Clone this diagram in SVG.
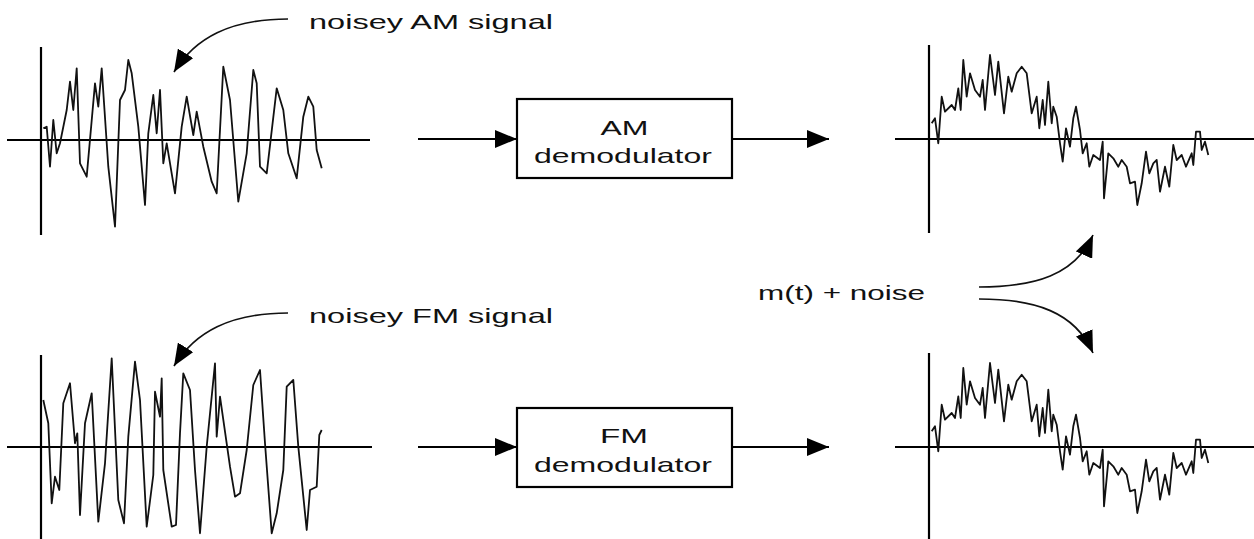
<svg xmlns="http://www.w3.org/2000/svg" width="1254" height="539" viewBox="0 0 1254 539">
<style>
.axis{stroke:#000;stroke-width:2.2;fill:none}
.sig{stroke:#111;stroke-width:1.8;fill:none;stroke-linejoin:round}
.box{fill:#fff;stroke:#000;stroke-width:2.2}
.arr{stroke:#000;stroke-width:2;fill:none;marker-end:url(#ah)}
.carr{stroke:#111;stroke-width:1.7;fill:none;marker-end:url(#ah)}
.t{font-family:"Liberation Sans",Arial,sans-serif;font-size:21px;fill:#111}
.c{text-anchor:middle}
</style>
<defs>
<marker id="ah" markerUnits="userSpaceOnUse" markerWidth="22" markerHeight="18" refX="22" refY="9" orient="auto">
<path d="M0,0 L22,9 L0,18 z" fill="#000"/>
</marker>
<polyline id="msig" points="931.7,123.3 935,118.3 938.3,143.3 941.7,96.7 945,111.7 951.7,105 955,110 958.3,88.3 960.7,110 963.3,60 966.7,96.7 970,73.3 975,90 980,96.7 982.7,80 985,110 990,55 995,95 998.3,61.7 1004,113.3 1008.3,76.7 1011.7,91.7 1016.7,73.3 1021.7,66.7 1026.7,73.3 1031.7,113.3 1036.7,96.7 1039.3,128.3 1042.7,100 1045,125 1048.3,81.7 1051.7,123.3 1053.3,106.7 1056.7,116.7 1060,143.3 1062.7,161.7 1066,128.3 1070,146.7 1073.3,118.3 1076,106.7 1080,130 1082.7,153.3 1086.7,143.3 1089.3,166.7 1093.3,155 1100,160 1102.7,141.7 1104,198.3 1108.3,153.3 1113.3,158.3 1118.3,166.7 1121.7,160 1126.7,166.7 1130,183.3 1135,181.7 1137.3,205 1141.7,183.3 1146,151.7 1149.3,173.3 1153.3,163.3 1156.7,160 1160,191.7 1165,166.7 1169.3,186.7 1173.3,145 1176.7,160 1181.7,155 1186,166.7 1191.7,153.3 1193.3,165 1196,131.7 1200,131.7 1201.7,150 1205,141.7 1208.3,155"/>
</defs>
<rect width="1254" height="539" fill="#fff"/>

<g id="am-input-plot">
<line class="axis" x1="41" y1="47" x2="41" y2="235"/>
<line class="axis" x1="7" y1="140" x2="370" y2="140"/>
<polyline class="sig" points="43.3,128.3 46.7,126.7 50,166.7 53.3,120 56.7,153.3 60,143.3 66.7,110 70,81.7 73.3,110 76.7,68.3 80,163.3 86.7,176.7 95,83.3 98.3,106.7 101.7,68.3 108.3,166.7 115,226.7 120,100 125,90 128.3,60 131.7,73.3 138.3,126.7 145,205 148.3,133.3 153.3,95 156.7,133.3 160,90 163.3,163.3 166.7,143.3 175,193.3 181.7,126.7 186.7,96.7 193.3,135 196.7,111.7 203.3,146.7 211.7,181.7 216.7,193.3 223.3,66.7 230,100 238.3,201.7 246.7,153.3 253.3,70 256.7,83.3 260,166.7 266.7,173.3 276.7,88.3 283.3,110 288.3,153.3 296.7,178.3 303.3,116.7 308.3,96.7 313.3,106.7 316.7,150 321.7,168.3"/>
</g>

<g id="fm-input-plot">
<line class="axis" x1="41" y1="355" x2="41" y2="539"/>
<line class="axis" x1="7" y1="447" x2="372" y2="447"/>
<polyline class="sig" points="43.3,400 48.3,423.3 51.7,503.3 55,476.7 59.3,490 63.3,403.3 70,383.3 75,443.3 77.3,433.3 80,515 85,423.3 91.7,393.3 98.3,521.7 105,463.3 111.7,358.3 118.3,500 124,523.3 128.3,436.7 135,361.7 140,400 146.7,526.7 153.3,475 155,391.7 160,416.7 161.7,378.3 163.3,470 171.7,526.7 176,525 180,433.3 183.3,373.3 190,390 195,470 200,533.3 206.7,446.7 215,363.3 216.7,436.7 220,396.7 230,466.7 235,496.7 240,493.3 246.7,450 253.3,385 260,370 265,443.3 271.7,533.3 276.7,513.3 283.3,470 286.7,386.7 293.3,380 298.3,446.7 306.7,530 310,490 316.7,486.7 319.3,435 321.7,430"/>
</g>

<g id="am-output-plot">
<line class="axis" x1="929" y1="45" x2="929" y2="233"/>
<line class="axis" x1="895" y1="139" x2="1254" y2="139"/>
<use href="#msig" class="sig"/>
</g>

<g id="fm-output-plot">
<line class="axis" x1="929" y1="353" x2="929" y2="539"/>
<line class="axis" x1="895" y1="447" x2="1254" y2="447"/>
<use href="#msig" class="sig" transform="translate(0,308)"/>
</g>

<g id="am-demodulator">
<rect class="box" x="517" y="99" width="215" height="79"/>
<text class="t c" x="624.5" y="135" textLength="48" lengthAdjust="spacingAndGlyphs">AM</text>
<text class="t c" x="623" y="163" textLength="178" lengthAdjust="spacingAndGlyphs">demodulator</text>
</g>

<g id="fm-demodulator">
<rect class="box" x="517" y="408" width="215" height="79"/>
<text class="t c" x="624" y="443" textLength="48" lengthAdjust="spacingAndGlyphs">FM</text>
<text class="t c" x="623" y="472" textLength="178" lengthAdjust="spacingAndGlyphs">demodulator</text>
</g>

<g id="label-am">
<text class="t" x="309" y="29" textLength="244" lengthAdjust="spacingAndGlyphs">noisey AM signal</text>
</g>
<g id="label-fm">
<text class="t" x="309" y="323" textLength="244" lengthAdjust="spacingAndGlyphs">noisey FM signal</text>
</g>
<g id="label-mt">
<text class="t" x="758" y="300" textLength="167" lengthAdjust="spacingAndGlyphs">m(t) + noise</text>
</g>

<g id="connectors">
<line class="arr" x1="418" y1="139" x2="517" y2="139"/>
<line class="arr" x1="732" y1="139" x2="829" y2="139"/>
<line class="arr" x1="418" y1="447" x2="517" y2="447"/>
<line class="arr" x1="732" y1="447" x2="829" y2="447"/>
<path class="carr" d="M288,19 C230,19 195,38 174,72"/>
<path class="carr" d="M288,313 C230,313 195,332 174,366"/>
<path class="carr" d="M979,287 C1035,287 1075,275 1093,235"/>
<path class="carr" d="M979,299 C1035,299 1075,312 1093,353"/>
</g>
</svg>
